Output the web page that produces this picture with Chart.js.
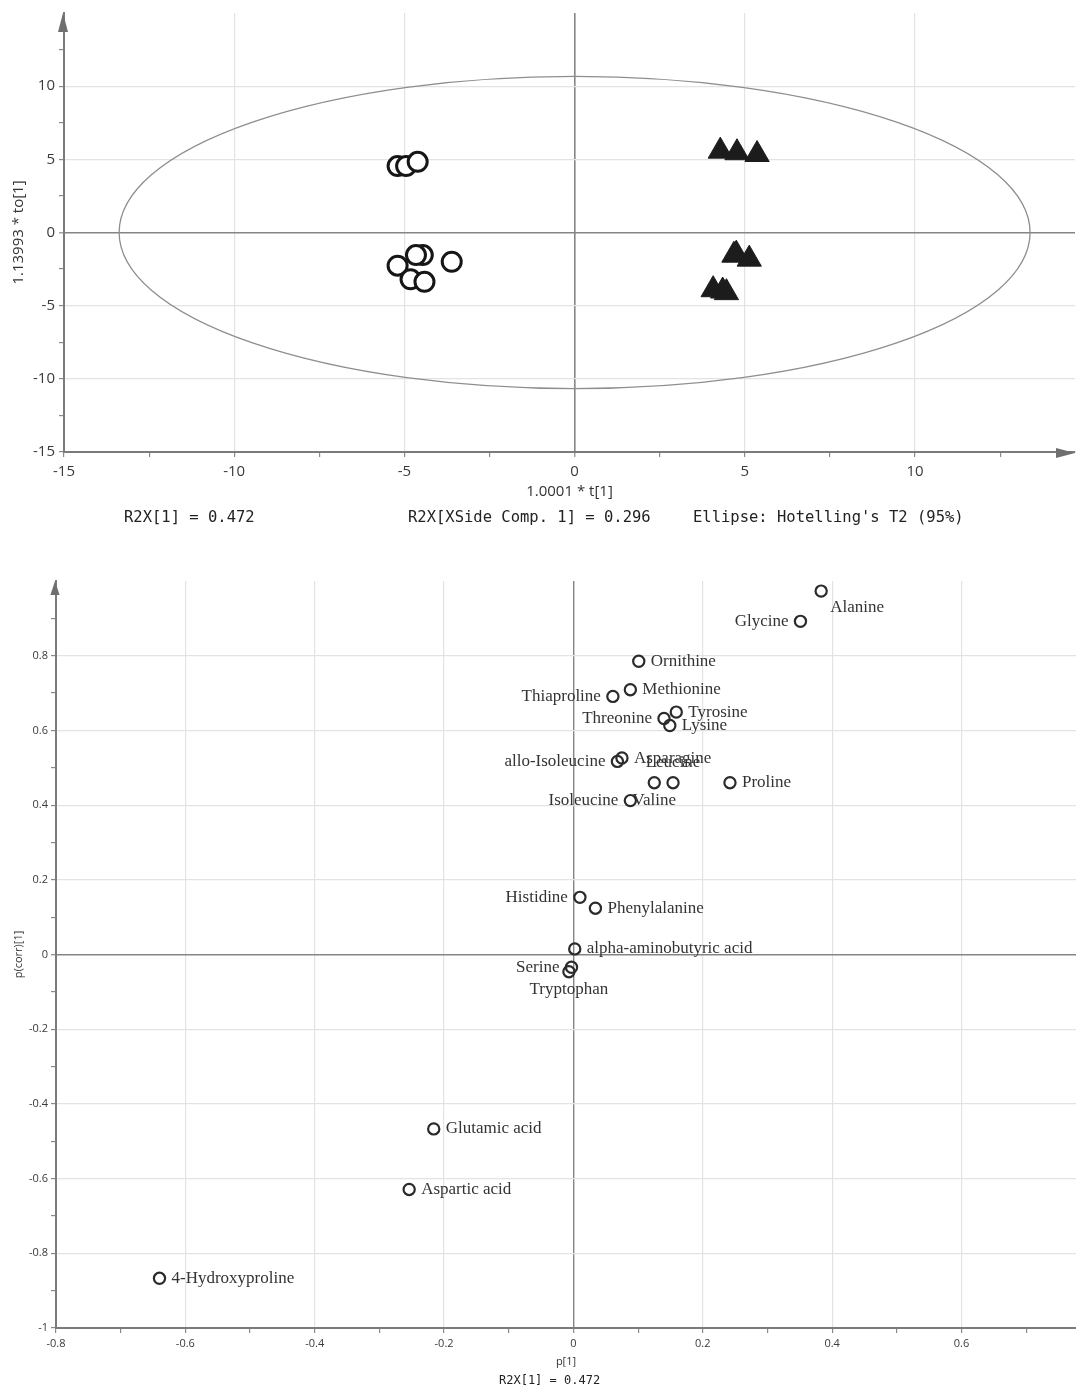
<!DOCTYPE html>
<html>
<head>
<meta charset="utf-8">
<title>OPLS-DA scores and loadings</title>
<script src="https://cdn.jsdelivr.net/npm/chart.js@4.4.1/dist/chart.umd.min.js"></script>
<style>
  html, body { margin: 0; padding: 0; background: #fff; }
  #page { position: relative; width: 1076px; height: 1387px; overflow: hidden; }
  #page canvas { position: absolute; left: 0; }
  .note {
    position: absolute;
    font-family: "DejaVu Sans Mono", "Liberation Mono", monospace;
    color: #222;
    white-space: pre;
    line-height: 1;
    transform: translateY(-50%);
  }
</style>
</head>
<body>
<div id="page">
  <canvas id="scores" width="1076" height="540" style="top:0"></canvas>
  <canvas id="loadings" width="1076" height="827" style="top:560px"></canvas>
  <div class="note" style="left:124px;top:518px;font-size:15.5px">R2X[1] = 0.472</div>
  <div class="note" style="left:408px;top:518px;font-size:15.5px">R2X[XSide Comp. 1] = 0.296</div>
  <div class="note" style="left:693px;top:518px;font-size:15.5px">Ellipse: Hotelling's T2 (95%)</div>
  <div class="note" style="left:499px;top:1380px;font-size:12px">R2X[1] = 0.472</div>
</div>

<script>
// ---- Score plot: predictive t[1] vs orthogonal to[1] ----
const groupA_t  = [-5.20, -4.95, -4.61, -5.20, -4.46, -4.66, -3.61, -4.82, -4.41];
const groupA_to = [ 4.54,  4.54,  4.83, -2.27, -1.54, -1.54, -2.00, -3.20, -3.37];
const groupB_t  = [ 4.28,  4.77,  5.36,  4.68,  4.75,  5.13,  4.07,  4.35,  4.46];
const groupB_to = [ 5.56,  5.45,  5.33, -1.55, -1.48, -1.82, -3.91, -4.00, -4.11];
// Hotelling's T2 (95%) ellipse semi-axes
const ellipseT  = 13.38;
const ellipseTo = 10.67;
const scoreTickLabels = [-15, -10, -5, 0, 5, 10];

// ---- Loadings plot: p[1] vs p(corr)[1] ----
const aminoAcids = [
  'Alanine', 'Glycine', 'Ornithine', 'Methionine', 'Thiaproline', 'Tyrosine',
  'Threonine', 'Lysine', 'Asparagine', 'allo-Isoleucine', 'Leucine', 'Valine',
  'Proline', 'Isoleucine', 'Histidine', 'Phenylalanine', 'alpha-aminobutyric acid',
  'Serine', 'Tryptophan', 'Glutamic acid', 'Aspartic acid', '4-Hydroxyproline'
];
const loadingP = [
  0.383, 0.351, 0.101, 0.088, 0.061, 0.159,
  0.140, 0.149, 0.075, 0.068, 0.154, 0.125,
  0.242, 0.088, 0.010, 0.034, 0.002,
  -0.003, -0.007, -0.216, -0.254, -0.640
];
const loadingPcorr = [
  0.973, 0.892, 0.785, 0.709, 0.691, 0.649,
  0.632, 0.613, 0.526, 0.517, 0.460, 0.460,
  0.460, 0.412, 0.153, 0.124, 0.015,
  -0.034, -0.046, -0.467, -0.629, -0.867
];
// where each name sits relative to its marker: r = right, l = left, a = above, b = below, br = below-right
const labelSide = [
  'br', 'l', 'r', 'r', 'l', 'r',
  'l', 'r', 'r', 'l', 'a', 'b',
  'r', 'l', 'l', 'r', 'r',
  'l', 'b', 'r', 'r', 'r'
];
const loadingXTickLabels = [-0.8, -0.6, -0.4, -0.2, 0, 0.2, 0.4, 0.6];
const loadingYTickLabels = [-1, -0.8, -0.6, -0.4, -0.2, 0, 0.2, 0.4, 0.6, 0.8];

Chart.defaults.animation = false;
Chart.defaults.font.family = '"Open Sans", "Noto Sans", sans-serif';

const GRID = '#e3e3e3';
const ZERO = '#858585';
const TICK = '#8a8a8a';
const AXIS = '#7b7b7b';

function stepTicks(first, last, step) {
  const out = [];
  const n0 = Math.round(first / step), n1 = Math.round(last / step);
  for (let n = n0; n <= n1; n++) out.push({ value: +(n * step).toFixed(6) });
  return out;
}
const isZero = c => c.tick && Math.abs(c.tick.value) < 1e-9;
function gridTone(labelled) {
  return c => {
    if (!c.tick) return 'rgba(0,0,0,0)';
    if (isZero(c)) return ZERO;
    return labelled.includes(c.tick.value) ? GRID : 'rgba(0,0,0,0)';
  };
}

// arrow heads at the open ends of the axes
const axisArrows = {
  id: 'axisArrows',
  afterDraw(chart, args, opts) {
    const { ctx, chartArea: a } = chart;
    ctx.save();
    ctx.fillStyle = opts.color;
    ctx.beginPath();
    ctx.moveTo(a.left - 1, a.top);
    ctx.lineTo(a.left - 1 - opts.half, a.top + opts.len);
    ctx.lineTo(a.left - 1 + opts.half, a.top + opts.len);
    ctx.closePath();
    ctx.fill();
    if (opts.right) {
      const y = a.bottom + 1;
      ctx.beginPath();
      ctx.moveTo(a.right, y);
      ctx.lineTo(a.right - opts.len, y - opts.half);
      ctx.lineTo(a.right - opts.len, y + opts.half);
      ctx.closePath();
      ctx.fill();
    }
    ctx.restore();
  }
};

// confidence ellipse centred at the origin, sized through the scales
const confidenceEllipse = {
  id: 'confidenceEllipse',
  beforeDatasetsDraw(chart) {
    const { ctx, scales: { x, y } } = chart;
    const cx = x.getPixelForValue(0), cy = y.getPixelForValue(0);
    const rx = Math.abs(x.getPixelForValue(ellipseT) - cx);
    const ry = Math.abs(y.getPixelForValue(ellipseTo) - cy);
    ctx.save();
    ctx.strokeStyle = '#8e8e8e';
    ctx.lineWidth = 1.3;
    ctx.beginPath();
    ctx.ellipse(cx, cy, rx, ry, 0, 0, Math.PI * 2);
    ctx.stroke();
    ctx.restore();
  }
};

// variable names beside the loading markers
const pointNames = {
  id: 'pointNames',
  afterDatasetsDraw(chart) {
    const ctx = chart.ctx;
    const meta = chart.getDatasetMeta(0);
    ctx.save();
    ctx.font = '17px "Liberation Serif", "Times New Roman", serif';
    ctx.fillStyle = '#333';
    ctx.textBaseline = 'middle';
    meta.data.forEach((pt, i) => {
      let x = pt.x, y = pt.y;
      switch (labelSide[i]) {
        case 'l': ctx.textAlign = 'right'; x -= 12; break;
        case 'a': ctx.textAlign = 'center'; y -= 20; break;
        case 'b': ctx.textAlign = 'center'; y += 18; break;
        case 'br': ctx.textAlign = 'left'; x += 9; y += 16; break;
        default: ctx.textAlign = 'left'; x += 12;
      }
      ctx.fillText(aminoAcids[i], x, y);
    });
    ctx.restore();
  }
};

const toPoints = (xs, ys) => xs.map((v, i) => ({ x: v, y: ys[i] }));

// ---------- score plot ----------
new Chart(document.getElementById('scores'), {
  type: 'scatter',
  data: {
    datasets: [
      {
        data: toPoints(groupA_t, groupA_to),
        pointStyle: 'circle',
        pointRadius: 9.5,
        borderWidth: 3,
        borderColor: '#161616',
        backgroundColor: '#ffffff',
        clip: false
      },
      {
        data: toPoints(groupB_t, groupB_to),
        pointStyle: 'triangle',
        pointRadius: 14,
        borderWidth: 1,
        borderColor: '#1c1c1c',
        backgroundColor: '#1c1c1c',
        clip: false
      }
    ]
  },
  options: {
    responsive: false,
    events: [],
    layout: { autoPadding: false, padding: { top: 13, right: 1, left: 0, bottom: 0 } },
    plugins: {
      legend: { display: false },
      tooltip: { enabled: false },
      axisArrows: { color: '#6f6f6f', len: 19, half: 5, right: true }
    },
    scales: {
      x: {
        type: 'linear', min: -15, max: 14.7,
        afterBuildTicks: s => { s.ticks = stepTicks(-15, 12.5, 2.5); },
        afterFit: s => { s.height = 88; },
        ticks: {
          autoSkip: false, maxRotation: 0, padding: 6, color: '#3a3a3a',
          font: { size: 15 },
          callback: v => scoreTickLabels.includes(v) ? String(v) : ''
        },
        grid: {
          color: gridTone(scoreTickLabels),
          lineWidth: c => isZero(c) ? 1.6 : 1.2,
          tickColor: TICK, tickLength: 5, tickWidth: 1.2
        },
        border: { color: AXIS, width: 2 },
        title: {
          display: true, text: '1.0001 * t[1]', color: '#333',
          font: { size: 15 }, padding: { top: 0, bottom: 39 }
        }
      },
      y: {
        type: 'linear', min: -15, max: 15,
        afterBuildTicks: s => { s.ticks = stepTicks(-15, 12.5, 2.5); },
        afterFit: s => { s.width = 64; },
        ticks: {
          autoSkip: false, padding: 4, color: '#3a3a3a',
          font: { size: 15 },
          callback: v => scoreTickLabels.includes(v) ? String(v) : ''
        },
        grid: {
          color: gridTone(scoreTickLabels),
          lineWidth: c => isZero(c) ? 1.6 : 1.2,
          tickColor: TICK, tickLength: 5, tickWidth: 1.2
        },
        border: { color: AXIS, width: 2 },
        title: {
          display: true, text: '1.13993 * to[1]', color: '#333',
          font: { size: 15 }, padding: { top: 10, bottom: 0 }
        }
      }
    }
  },
  plugins: [confidenceEllipse, axisArrows]
});

// ---------- loadings plot ----------
new Chart(document.getElementById('loadings'), {
  type: 'scatter',
  data: {
    datasets: [{
      data: toPoints(loadingP, loadingPcorr),
      pointStyle: 'circle',
      pointRadius: 5.6,
      borderWidth: 2.2,
      borderColor: '#2b2b2b',
      backgroundColor: 'rgba(255,255,255,0)',
      clip: false
    }]
  },
  options: {
    responsive: false,
    events: [],
    layout: { autoPadding: false, padding: { top: 21, right: 0, left: 0, bottom: 0 } },
    plugins: {
      legend: { display: false },
      tooltip: { enabled: false },
      axisArrows: { color: '#6f6f6f', len: 14, half: 4.6, right: false }
    },
    scales: {
      x: {
        type: 'linear', min: -0.8, max: 0.777,
        afterBuildTicks: s => { s.ticks = stepTicks(-0.8, 0.7, 0.1); },
        afterFit: s => { s.height = 59; },
        ticks: {
          autoSkip: false, maxRotation: 0, padding: 4, color: '#3a3a3a',
          font: { size: 11 },
          callback: v => loadingXTickLabels.includes(v) ? String(v) : ''
        },
        grid: {
          color: gridTone(loadingXTickLabels),
          lineWidth: c => isZero(c) ? 1.4 : 1.2,
          tickColor: TICK, tickLength: 5, tickWidth: 1.2
        },
        border: { color: AXIS, width: 2 },
        title: {
          display: true, text: 'p[1]', color: '#333',
          font: { size: 11 }, padding: { top: 0, bottom: 19 }
        }
      },
      y: {
        type: 'linear', min: -1, max: 1,
        afterBuildTicks: s => { s.ticks = stepTicks(-1, 0.9, 0.1); },
        afterFit: s => { s.width = 56; },
        ticks: {
          autoSkip: false, padding: 3, color: '#3a3a3a',
          font: { size: 11 },
          callback: v => loadingYTickLabels.includes(v) ? String(v) : ''
        },
        grid: {
          color: gridTone(loadingYTickLabels),
          lineWidth: c => isZero(c) ? 1.4 : 1.2,
          tickColor: TICK, tickLength: 5, tickWidth: 1.2
        },
        border: { color: AXIS, width: 2 },
        title: {
          display: true, text: 'p(corr)[1]', color: '#333',
          font: { size: 11 }, padding: { top: 12, bottom: 0 }
        }
      }
    }
  },
  plugins: [pointNames, axisArrows]
});
</script>
</body>
</html>
